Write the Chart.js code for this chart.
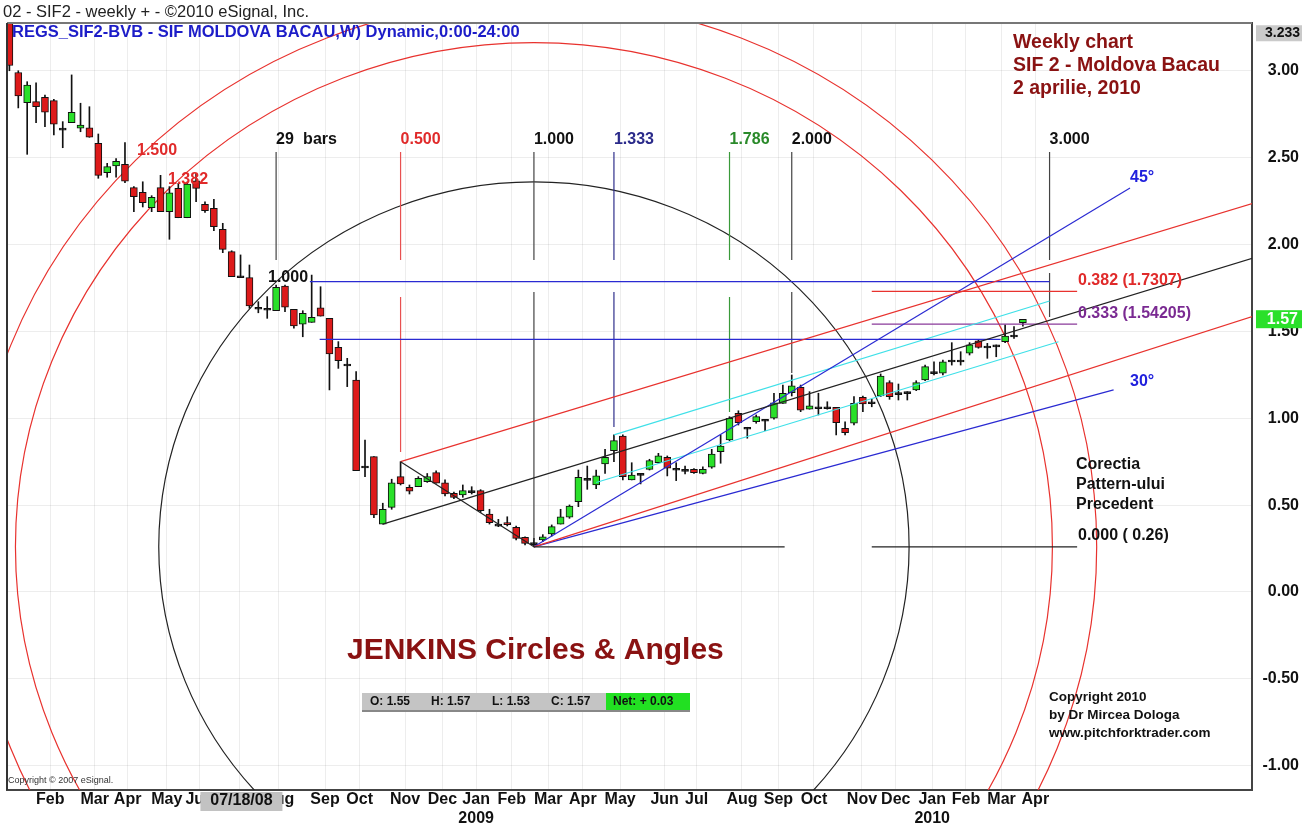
<!DOCTYPE html>
<html>
<head>
<meta charset="utf-8">
<title>SIF2 weekly - JENKINS Circles & Angles</title>
<script src="https://cdn.jsdelivr.net/npm/chart.js@4.4.1/dist/chart.umd.min.js"></script>
<style>
  html, body { margin: 0; padding: 0; background: #fff; }
</style>
</head>
<body>
<canvas id="sifChart" width="1314" height="830"></canvas>
<script>
// weekly candles, end of Jan 2008 .. 2 Apr 2010 (first one is cut by the left edge)
const opens = [3.45, 2.99, 2.816, 2.822, 2.847, 2.828, 2.670, 2.701, 2.669, 2.672,
  2.582, 2.413, 2.452, 2.462, 2.327, 2.300, 2.212, 2.327, 2.189, 2.323,
  2.154, 2.367, 2.231, 2.208, 2.088, 1.959, 1.82, 1.809, 1.639, 1.633,
  1.619, 1.761, 1.627, 1.542, 1.552, 1.636, 1.575, 1.408, 1.312, 1.220,
  0.725, 0.779, 0.391, 0.487, 0.664, 0.603, 0.606, 0.635, 0.687, 0.629,
  0.568, 0.558, 0.583, 0.583, 0.449, 0.391, 0.396, 0.372, 0.315, 0.284,
  0.299, 0.334, 0.391, 0.430, 0.520, 0.654, 0.616, 0.737, 0.813, 0.898,
  0.645, 0.683, 0.706, 0.744, 0.775, 0.712, 0.706, 0.706, 0.683, 0.718,
  0.807, 0.875, 1.028, 0.948, 0.980, 0.994, 1.000, 1.086, 1.147, 1.178,
  1.052, 1.066, 1.066, 1.063, 0.942, 0.971, 1.121, 1.095, 1.128, 1.205,
  1.147, 1.153, 1.163, 1.220, 1.268, 1.259, 1.335, 1.335, 1.374, 1.446,
  1.416, 1.422, 1.441, 1.479, 1.55];
const highs = [3.50, 3.00, 2.937, 2.931, 2.860, 2.836, 2.707, 2.976, 2.813, 2.793,
  2.636, 2.467, 2.494, 2.586, 2.333, 2.361, 2.281, 2.398, 2.333, 2.352,
  2.360, 2.410, 2.246, 2.260, 2.122, 1.964, 1.94, 1.882, 1.671, 1.700,
  1.767, 1.767, 1.627, 1.619, 1.824, 1.757, 1.575, 1.441, 1.345, 1.268,
  0.875, 0.779, 0.511, 0.649, 0.750, 0.616, 0.664, 0.682, 0.698, 0.645,
  0.575, 0.616, 0.606, 0.589, 0.476, 0.418, 0.433, 0.380, 0.318, 0.309,
  0.330, 0.386, 0.476, 0.501, 0.702, 0.725, 0.702, 0.821, 0.904, 0.904,
  0.744, 0.683, 0.764, 0.798, 0.783, 0.744, 0.725, 0.710, 0.721, 0.821,
  0.904, 1.009, 1.043, 0.948, 1.019, 0.994, 1.144, 1.191, 1.249, 1.191,
  1.153, 1.144, 1.095, 1.063, 0.980, 1.124, 1.128, 1.109, 1.255, 1.216,
  1.197, 1.153, 1.216, 1.306, 1.325, 1.335, 1.435, 1.383, 1.435, 1.454,
  1.431, 1.422, 1.537, 1.527, 1.57];
const lows = [3.00, 2.786, 2.519, 2.701, 2.678, 2.630, 2.557, 2.701, 2.649, 2.617,
  2.381, 2.387, 2.387, 2.356, 2.189, 2.216, 2.189, 2.189, 2.030, 2.154,
  2.154, 2.246, 2.185, 2.079, 1.953, 1.815, 1.815, 1.633, 1.607, 1.575,
  1.619, 1.613, 1.518, 1.469, 1.552, 1.588, 1.163, 1.287, 1.182, 0.698,
  0.664, 0.428, 0.391, 0.476, 0.616, 0.564, 0.606, 0.631, 0.626, 0.553,
  0.537, 0.545, 0.564, 0.458, 0.391, 0.376, 0.380, 0.299, 0.271, 0.260,
  0.290, 0.322, 0.391, 0.424, 0.491, 0.591, 0.595, 0.683, 0.750, 0.645,
  0.645, 0.622, 0.702, 0.741, 0.668, 0.641, 0.679, 0.683, 0.679, 0.712,
  0.741, 0.871, 0.961, 0.885, 0.971, 0.928, 0.994, 1.086, 1.128, 1.038,
  1.052, 1.019, 1.052, 0.904, 0.904, 0.961, 1.038, 1.066, 1.124, 1.109,
  1.105, 1.105, 1.159, 1.216, 1.249, 1.249, 1.306, 1.306, 1.364, 1.403,
  1.345, 1.354, 1.435, 1.460, 1.53];
const closes = [3.03, 2.855, 2.918, 2.793, 2.761, 2.692, 2.670, 2.761, 2.688, 2.617,
  2.398, 2.448, 2.479, 2.365, 2.275, 2.241, 2.272, 2.189, 2.298, 2.154,
  2.348, 2.323, 2.195, 2.102, 1.972, 1.815, 1.82, 1.646, 1.639, 1.633,
  1.754, 1.639, 1.531, 1.604, 1.581, 1.588, 1.370, 1.331, 1.312, 0.698,
  0.725, 0.443, 0.476, 0.629, 0.622, 0.581, 0.654, 0.664, 0.626, 0.564,
  0.545, 0.583, 0.583, 0.468, 0.399, 0.391, 0.388, 0.309, 0.280, 0.284,
  0.318, 0.376, 0.433, 0.495, 0.660, 0.654, 0.668, 0.775, 0.871, 0.664,
  0.673, 0.683, 0.756, 0.783, 0.712, 0.712, 0.706, 0.687, 0.706, 0.794,
  0.840, 1.000, 0.974, 0.948, 1.009, 0.994, 1.089, 1.144, 1.186, 1.047,
  1.071, 1.066, 1.066, 0.974, 0.917, 1.086, 1.082, 1.095, 1.243, 1.124,
  1.147, 1.153, 1.205, 1.297, 1.268, 1.325, 1.335, 1.335, 1.422, 1.408,
  1.416, 1.422, 1.473, 1.479, 1.57];

// x axis month labels (position in weeks) and price ticks
const monthTickPos = [4.6, 9.6, 13.3, 17.7, 21.4, 25.9, 30.3, 35.5, 39.4, 44.5, 48.7, 52.5, 56.5,
  60.6, 64.5, 68.7, 73.7, 77.3, 82.4, 86.5, 90.5, 95.9, 99.7, 103.8, 107.6, 111.6, 115.4];
const monthTickText = ['Feb', 'Mar', 'Apr', 'May', 'Jun', 'Jul', 'Aug', 'Sep', 'Oct', 'Nov', 'Dec',
  ['Jan', '2009'], 'Feb', 'Mar', 'Apr', 'May', 'Jun', 'Jul', 'Aug', 'Sep', 'Oct', 'Nov', 'Dec',
  ['Jan', '2010'], 'Feb', 'Mar', 'Apr'];
const priceTicks = [3, 2.5, 2, 1.5, 1, 0.5, 0, -0.5, -1];

// Jenkins circles around the March 2009 low
const pivotLowIdx = 59;
const pivotLowPrice = 0.26;
const circleRadiusWeeks = 42.2;
const circleRadiusPrice = 2.10;
const circleRatios = [1, 1.382, 1.5];

// time ratio verticals (29 bar unit)
const timeRatioText = ['29', '0.500', '1.000', '1.333', '1.786', '2.000', '3.000'];
const timeRatioBars = [30, 44, 59, 68, 81, 88, 117];
const timeUpperSpan = [2.532, 1.911];
const timeLowerSpan = [null, [1.698, 0.806], [1.727, 0.299], [1.727, 0.950], [1.698, 1.036], [1.727, 1.260], [1.836, 1.583]];

// drawn lines [week1, price1, week2, price2]
const blackLines = [[42, 0.391, 141, 1.939], [44, 0.750, 59, 0.26], [59, 0.26, 87.2, 0.26], [97, 0.26, 120.1, 0.26]];
const redLines = [[44, 0.750, 141, 2.254], [59, 0.26, 141, 1.605], [97, 1.7307, 120.1, 1.7307]];
const blueLines = [[33.8, 1.786, 117, 1.786], [34.9, 1.454, 111.5, 1.454], [59, 0.26, 126.05, 2.325], [59, 0.26, 124.2, 1.163]];
const cyanLines = [[68, 0.904, 117, 1.675], [66, 0.63, 118, 1.44]];
const purpleLines = [[97, 1.54205, 120.1, 1.54205]];

const fam = "Arial, 'Liberation Sans', sans-serif";
Chart.defaults.font.family = fam;

const idx = opens.map((_, i) => i);
const wickData = idx.map(i => ({ x: i, y: [lows[i], highs[i]] }));
const bodyData = idx.map(i => ({ x: i, y: [Math.min(opens[i], closes[i]), Math.max(opens[i], closes[i])] }));

function bodyColor(c) {
  const i = c.dataIndex;
  if (Math.abs(closes[i] - opens[i]) < 0.002) return '#111';
  return closes[i] > opens[i] ? '#2ae02a' : '#dd1a1a';
}

function segs(list, color) {
  return list.map(s => ({
    type: 'line',
    data: [{ x: s[0], y: s[1] }, { x: s[2], y: s[3] }],
    borderColor: color, borderWidth: 1.2, pointRadius: 0, fill: false, tension: 0, clip: 0, order: 1
  }));
}

const timeColors = ['#444', '#e85050', '#444', '#30308c', '#3a9a3a', '#444', '#444'];
const timeTextColors = ['#111', '#e02a2a', '#111', '#2a2a8a', '#2a8a2a', '#111', '#111'];
let timeSets = [];
timeRatioBars.forEach((k, i) => {
  timeSets = timeSets.concat(segs([[k, timeUpperSpan[0], k, timeUpperSpan[1]]], timeColors[i]));
  if (timeLowerSpan[i]) timeSets = timeSets.concat(segs([[k, timeLowerSpan[i][0], k, timeLowerSpan[i][1]]], timeColors[i]));
});

function txt(ctx, s, x, y, font, color, align) {
  ctx.font = font;
  ctx.fillStyle = color;
  ctx.textAlign = align || 'left';
  ctx.textBaseline = 'middle';
  ctx.fillText(s, x, y);
}

const overlay = {
  id: 'jenkinsOverlay',
  beforeDatasetsDraw(chart) {
    const { ctx, chartArea: a, scales: { x, y } } = chart;
    ctx.save();
    ctx.beginPath();
    ctx.rect(a.left, a.top, a.right - a.left, a.bottom - a.top);
    ctx.clip();
    const cx = x.getPixelForValue(pivotLowIdx), cy = y.getPixelForValue(pivotLowPrice);
    circleRatios.forEach((r, i) => {
      const rx = Math.abs(x.getPixelForValue(pivotLowIdx + circleRadiusWeeks * r) - cx);
      const ry = Math.abs(y.getPixelForValue(pivotLowPrice + circleRadiusPrice * r) - cy);
      ctx.beginPath();
      ctx.ellipse(cx, cy, rx, ry, 0, 0, Math.PI * 2);
      ctx.strokeStyle = i === 0 ? '#222' : '#e8322e';
      ctx.lineWidth = 1.2;
      ctx.stroke();
    });
    ctx.restore();
  },
  afterDraw(chart) {
    const { ctx, chartArea: a, scales: { x, y } } = chart;
    const last = opens.length - 1;
    ctx.save();
    // frame
    ctx.strokeStyle = '#777';
    ctx.lineWidth = 2;
    ctx.beginPath(); ctx.moveTo(a.left, a.top); ctx.lineTo(a.right, a.top); ctx.stroke();
    ctx.strokeStyle = '#333';
    ctx.beginPath(); ctx.moveTo(a.left, a.top); ctx.lineTo(a.left, a.bottom); ctx.stroke();

    // header
    txt(ctx, '02 - SIF2 - weekly + - \u00a92010 eSignal, Inc.', 3, 12, '16.5px ' + fam, '#222');
    txt(ctx, 'REGS_SIF2-BVB - SIF MOLDOVA BACAU,W) Dynamic,0:00-24:00', 12, 32, 'bold 16.5px ' + fam, '#1c1cc8');
    const maroon = '#8a1212';
    txt(ctx, 'Weekly chart', 1013, 43, 'bold 19.5px ' + fam, maroon);
    txt(ctx, 'SIF 2 - Moldova Bacau', 1013, 66, 'bold 19.5px ' + fam, maroon);
    txt(ctx, '2 aprilie, 2010', 1013, 89, 'bold 19.5px ' + fam, maroon);
    txt(ctx, 'JENKINS Circles & Angles', 347, 651, 'bold 30px ' + fam, maroon);

    // time ratio labels
    const lf = 'bold 16px ' + fam;
    timeRatioBars.forEach((k, i) => {
      const px = x.getPixelForValue(k);
      txt(ctx, timeRatioText[i], px, 140, lf, timeTextColors[i]);
    });
    txt(ctx, 'bars', x.getPixelForValue(timeRatioBars[0]) + 27, 140, lf, '#111');
    txt(ctx, '1.500', 137, 151, lf, '#e02a2a');
    txt(ctx, '1.382', 168, 180, lf, '#e02a2a');
    txt(ctx, '1.000', 268, 278, lf, '#111');

    // retracement and angle labels
    txt(ctx, '0.382 (1.7307)', 1078, 281, lf, '#e02a2a');
    txt(ctx, '0.333 (1.54205)', 1078, 314, lf, '#7a2a92');
    txt(ctx, '0.000 ( 0.26)', 1078, 536, lf, '#111');
    txt(ctx, '45\u00b0', 1130, 178, lf, '#2020dd');
    txt(ctx, '30\u00b0', 1130, 382, lf, '#2020dd');
    txt(ctx, 'Corectia', 1076, 465, lf, '#111');
    txt(ctx, 'Pattern-ului', 1076, 485, lf, '#111');
    txt(ctx, 'Precedent', 1076, 505, lf, '#111');

    // footer notes
    const ff = 'bold 13.5px ' + fam;
    txt(ctx, 'Copyright 2010', 1049, 697, ff, '#111');
    txt(ctx, 'by Dr Mircea Dologa', 1049, 715, ff, '#111');
    txt(ctx, 'www.pitchforktrader.com', 1049, 733, ff, '#111');
    txt(ctx, 'Copyright \u00a9 2007 eSignal.', 8, 781, '9px ' + fam, '#333');

    // OHLC box
    ctx.fillStyle = '#c4c4c4';
    ctx.fillRect(362, 693, 244, 18);
    ctx.fillStyle = '#22e022';
    ctx.fillRect(606, 693, 84, 18);
    ctx.fillStyle = '#888';
    ctx.fillRect(362, 710, 328, 2);
    const bf = 'bold 12px ' + fam;
    txt(ctx, 'O: ' + opens[last].toFixed(2), 370, 702, bf, '#111');
    txt(ctx, 'H: ' + highs[last].toFixed(2), 431, 702, bf, '#111');
    txt(ctx, 'L: ' + lows[last].toFixed(2), 492, 702, bf, '#111');
    txt(ctx, 'C: ' + closes[last].toFixed(2), 551, 702, bf, '#111');
    txt(ctx, 'Net: + 0.03', 613, 702, bf, '#111');

    // cursor date on the time axis
    const dx = x.getPixelForValue(26.1);
    ctx.fillStyle = '#c2c2c2';
    ctx.fillRect(dx - 41, 792, 82, 19);
    txt(ctx, '07/18/08', dx, 801, 'bold 16px ' + fam, '#111', 'center');

    // price axis flags
    const topY = y.getPixelForValue(3.233) + 3;
    ctx.fillStyle = '#cacaca';
    ctx.fillRect(a.right + 4, topY - 8, 46, 16);
    txt(ctx, '3.233', 1300, topY, 'bold 14px ' + fam, '#111', 'right');
    const lastY = y.getPixelForValue(closes[last]);
    ctx.fillStyle = '#2ae02a';
    ctx.fillRect(a.right + 4, lastY - 9, 46, 18);
    txt(ctx, closes[last].toFixed(2), 1298, lastY, 'bold 16px ' + fam, '#fff', 'right');
    ctx.restore();
  }
};

new Chart(document.getElementById('sifChart'), {
  type: 'bar',
  data: {
    datasets: [
      { type: 'bar', data: wickData, backgroundColor: '#111', barThickness: 1, grouped: false, clip: 0, order: 3 },
      { type: 'bar', data: bodyData, backgroundColor: bodyColor, borderColor: '#111', borderWidth: 1,
        borderSkipped: false, barThickness: 7, minBarLength: 2, grouped: false, clip: 0, order: 2 }
    ].concat(
      segs(blackLines, '#222'), segs(redLines, '#e8322e'), segs(blueLines, '#2a2ad2'),
      segs(cyanLines, '#3fe0e8'), segs(purpleLines, '#8a3a9a'), timeSets
    )
  },
  options: {
    responsive: false,
    animation: false,
    layout: { padding: { top: 23, left: 7, right: 15, bottom: 0 } },
    plugins: { legend: { display: false }, tooltip: { enabled: false } },
    scales: {
      x: {
        type: 'linear', min: -0.27, max: 139.77, offset: false,
        afterBuildTicks: s => { s.ticks = monthTickPos.map(v => ({ value: v })); },
        afterFit: s => { s.height = 40; },
        ticks: {
          autoSkip: false, maxRotation: 0, padding: 0, color: '#111',
          font: { size: 16, weight: 'bold' },
          callback: (v, i) => monthTickText[i]
        },
        grid: { color: 'rgba(0,0,0,0.07)', drawTicks: false, offset: false },
        border: { color: '#444', width: 2 }
      },
      y: {
        type: 'linear', position: 'right', min: -1.1396, max: 3.2748,
        afterBuildTicks: s => { s.ticks = priceTicks.map(v => ({ value: v })); },
        afterFit: s => { s.width = 47; },
        ticks: {
          padding: 10, crossAlign: 'far', color: '#111',
          font: { size: 16, weight: 'bold' },
          callback: v => v.toFixed(2)
        },
        grid: { color: 'rgba(0,0,0,0.07)', drawTicks: false },
        border: { color: '#444', width: 2 }
      }
    }
  },
  plugins: [overlay]
});
</script>
</body>
</html>
